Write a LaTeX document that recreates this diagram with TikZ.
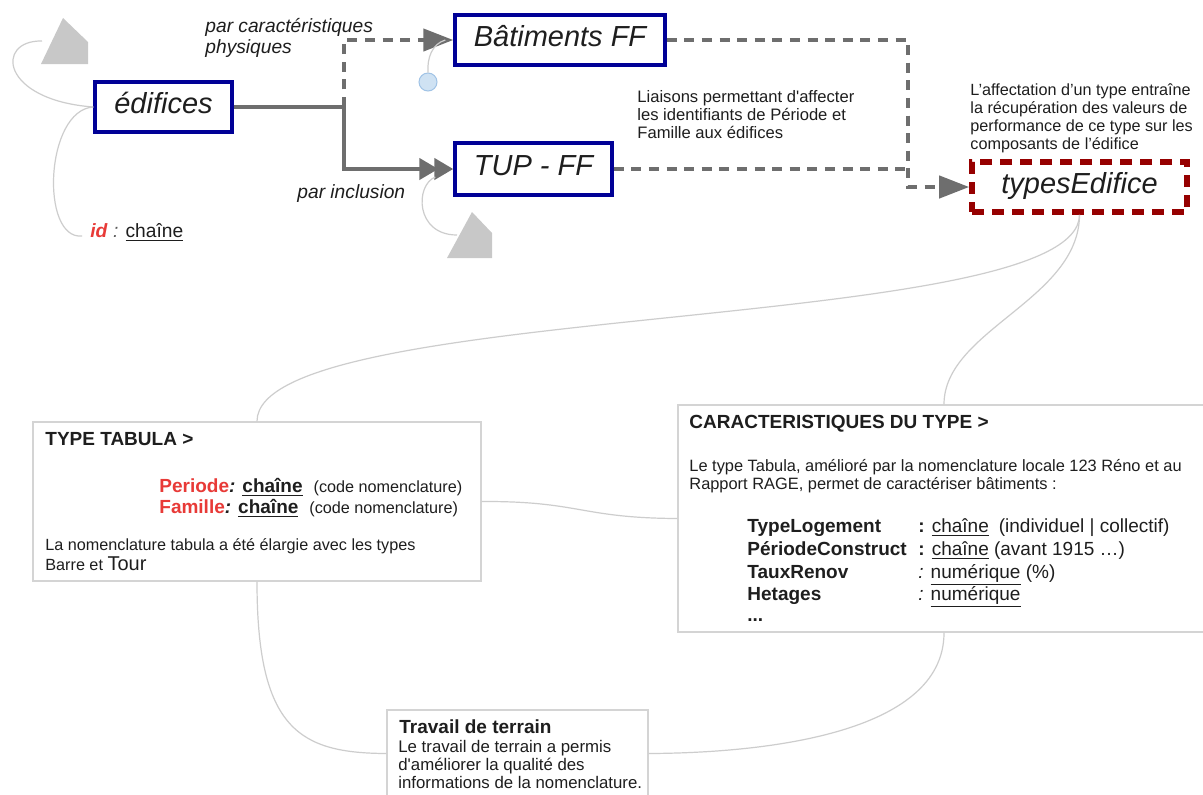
\documentclass[tikz,border=0pt]{standalone}
\usepackage{fontspec}
\setmainfont{Liberation Sans}
\usetikzlibrary{arrows.meta}
\definecolor{boxblue}{RGB}{0,0,150}
\definecolor{conngray}{RGB}{110,110,110}
\definecolor{darkred}{RGB}{150,0,0}
\definecolor{thingray}{RGB}{205,205,205}
\definecolor{shapegray}{RGB}{200,200,200}
\definecolor{txt}{RGB}{30,30,30}
\definecolor{attrred}{RGB}{232,58,55}
\definecolor{boxgray}{RGB}{212,212,212}
\definecolor{circfill}{RGB}{207,226,243}
\definecolor{circdraw}{RGB}{160,195,230}
\definecolor{colgray}{RGB}{90,90,90}
\begin{document}
\begin{tikzpicture}[x=0.5pt,y=-0.5pt,
  entity/.style={draw=boxblue, line width=1.7pt, fill=white, text=txt,
    font=\fontsize{14.5}{17}\selectfont\itshape, inner sep=0pt,
    text height=0.8em, text depth=0.2em},
  typebox/.style={draw=darkred, line width=2.8pt, dash pattern=on 6pt off 4pt, fill=white, text=txt,
    font=\fontsize{14.5}{17}\selectfont\itshape, inner sep=0pt,
    text height=0.8em, text depth=0.2em},
  conn/.style={draw=conngray, line width=2.1pt},
  dconn/.style={conn, dash pattern=on 5pt off 3.8pt},
  tipA/.style={-{Triangle[length=15pt,width=11pt]}},
  tipB/.style={-{Triangle[length=9.5pt,width=10.5pt,sep=-2pt]Triangle[length=9.5pt,width=10.5pt]}},
  link/.style={draw=thingray, line width=0.6pt},
  panel/.style={draw=boxgray, line width=0.7pt, fill=white, inner sep=0pt},
  lbl/.style={text=txt, inner sep=0pt, anchor=base west},
  lblit/.style={lbl, font=\fontsize{9.6}{11}\selectfont\itshape},
  small/.style={lbl, font=\fontsize{8.1}{9.5}\selectfont},
  ttl/.style={lbl, font=\fontsize{9.5}{11}\selectfont\bfseries},
  attr/.style={lbl, font=\fontsize{9.5}{11}\selectfont},
]
\useasboundingbox (0,0) rectangle (1203,794);
\fill[white] (0,0) rectangle (1203,794);

% gray decorative shapes
\fill[shapegray] (41,64) -- (63,18) -- (88,42) -- (88,64) -- cycle;
\fill[shapegray] (447,258) -- (472,212) -- (492,233) -- (492,258) -- cycle;

% main entity boxes
\node[entity, minimum width=68.5pt, minimum height=25pt] (edif) at (163.5,107) {édifices};
\node[entity, minimum width=105pt, minimum height=25pt] (bat) at (560,40) {Bâtiments FF};
\node[entity, minimum width=78.5pt, minimum height=26pt] (tup) at (533.5,169) {TUP - FF};
\node[typebox, minimum width=107.5pt, minimum height=25pt] (types) at (1079.5,187) {typesEdifice};

% small circle
\node[circle, fill=circfill, draw=circdraw, line width=0.5pt, minimum size=9pt, inner sep=0pt] (dot) at (428,82) {};

% panels
\node[panel, minimum width=224pt, minimum height=79.5pt] (tabula) at (257,501.5) {};
\node[panel, minimum width=266pt, minimum height=113.5pt] (carac) at (944,518.5) {};
\node[panel, minimum width=130.5pt, minimum height=43.5pt] (travail) at (517.5,753.5) {};

% connectors
\coordinate (j) at (344,107);
\coordinate (k) at (908,187);
\draw[conn, tipB] (edif.east) -- (j) |- (tup.west);
\draw[dconn, tipA] (j) |- (bat.west);
\draw[dconn, tipA] (bat.east) -| (k) -- (types.west);
\draw[dconn] (tup.east) -- (tup.east -| k);

% thin links
\draw[link] (42,41) .. controls (-5,40) and (0,100) .. (edif.west);
\draw[link] (edif.west) .. controls (45,110) and (40,240) .. (82,236);
\draw[link] (dot.north) .. controls (427,58) and (432,44) .. ([xshift=-4pt]bat.west);
\draw[link] ([xshift=-9pt,yshift=-4pt]tup.west) .. controls (415,185) and (415,235) .. (457,235);
\draw[link] (types.south) .. controls (1079,335) and (257,300) .. (tabula.north);
\draw[link] (types.south) .. controls (1079,300) and (944,330) .. (carac.north);
\draw[link] (tabula.east) .. controls (580,501) and (580,518) .. (carac.west);
\draw[link] (tabula.south) .. controls (257,730) and (300,753) .. (travail.west);
\draw[link] (carac.south) .. controls (944,735) and (760,753) .. (travail.east);

% edge labels
\node[lblit] (phys1) at (205,32) {par caractéristiques};
\node[lblit] (phys2) at (205,53) {physiques};
\node[lblit] (incl) at (297,198) {par inclusion};
\node[lbl, font=\fontsize{9.6}{11}\selectfont] (idattr) at (90,237)
  {\textcolor{attrred}{\textbf{\textit{id}}}\textcolor{colgray}{\textit{ : }}\underline{chaîne}};

% notes
\node[small, font=\fontsize{8.3}{9.5}\selectfont] (lia1) at (637,102) {Liaisons permettant d\textquotesingle affecter};
\node[small, font=\fontsize{8.3}{9.5}\selectfont] (lia2) at (637,120) {les identifiants de Période et};
\node[small, font=\fontsize{8.3}{9.5}\selectfont] (lia3) at (637,138) {Famille aux édifices};
\node[small] (aff1) at (970,95) {L’affectation d’un type entraîne};
\node[small] (aff2) at (970,113) {la récupération des valeurs de};
\node[small] (aff3) at (970,131) {performance de ce type sur les};
\node[small] (aff4) at (970,149) {composants de l’édifice};

% TYPE TABULA panel
\node[ttl] (tabt) at (45,445) {TYPE TABULA >};
\node[attr] (per) at (159,492) {\textbf{\textcolor{attrred}{Periode}\textit{:} \underline{chaîne}}\hspace{5.5pt}{\fontsize{8.1}{9.5}\selectfont(code nomenclature)}};
\node[attr] (fam) at (159,513) {\textbf{\textcolor{attrred}{Famille}\textit{:} \underline{chaîne}}\hspace{5.5pt}{\fontsize{8.1}{9.5}\selectfont(code nomenclature)}};
\node[small] (nom1) at (45,550) {La nomenclature tabula a été élargie avec les types};
\node[small] (nom2) at (45,570) {Barre et {\fontsize{10}{12}\selectfont Tour}};

% CARACTERISTIQUES panel
\node[ttl] (cart) at (689,428) {CARACTERISTIQUES DU TYPE >};
\node[small, font=\fontsize{8.2}{9.5}\selectfont] (car1) at (689,471) {Le type Tabula, amélioré par la nomenclature locale 123 Réno et au};
\node[small, font=\fontsize{8.2}{9.5}\selectfont] (car2) at (689,489) {Rapport RAGE, permet de caractériser bâtiments :};
\node[attr, font=\fontsize{9.5}{11}\selectfont\bfseries] (n1) at (747,532) {TypeLogement};
\node[attr, font=\fontsize{9.5}{11}\selectfont\bfseries] (n2) at (747,555) {PériodeConstruct};
\node[attr, font=\fontsize{9.5}{11}\selectfont\bfseries] (n3) at (747,578) {TauxRenov};
\node[attr, font=\fontsize{9.5}{11}\selectfont\bfseries] (n4) at (747,600) {Hetages};
\node[attr, font=\fontsize{9.5}{11}\selectfont\bfseries] (n5) at (747,621) {...};
\node[attr] (v1) at (918,532) {\textbf{:} \underline{chaîne}\hspace{5pt}(individuel | collectif)};
\node[attr] (v2) at (918,555) {\textbf{:} \underline{chaîne} (avant 1915 …)};
\node[attr] (v3) at (918,578) {\textit{:} \underline{numérique} (\%)};
\node[attr] (v4) at (918,600) {\textit{:} \underline{numérique}};

% Travail de terrain panel
\node[ttl] (trt) at (399,733) {Travail de terrain};
\node[lbl, font=\fontsize{8.4}{9.5}\selectfont] (tr1) at (398,752) {Le travail de terrain a permis};
\node[lbl, font=\fontsize{8.4}{9.5}\selectfont] (tr2) at (398,770) {d\textquotesingle améliorer la qualité des};
\node[lbl, font=\fontsize{8.4}{9.5}\selectfont] (tr3) at (398,788) {informations de la nomenclature.};
\end{tikzpicture}
\end{document}
